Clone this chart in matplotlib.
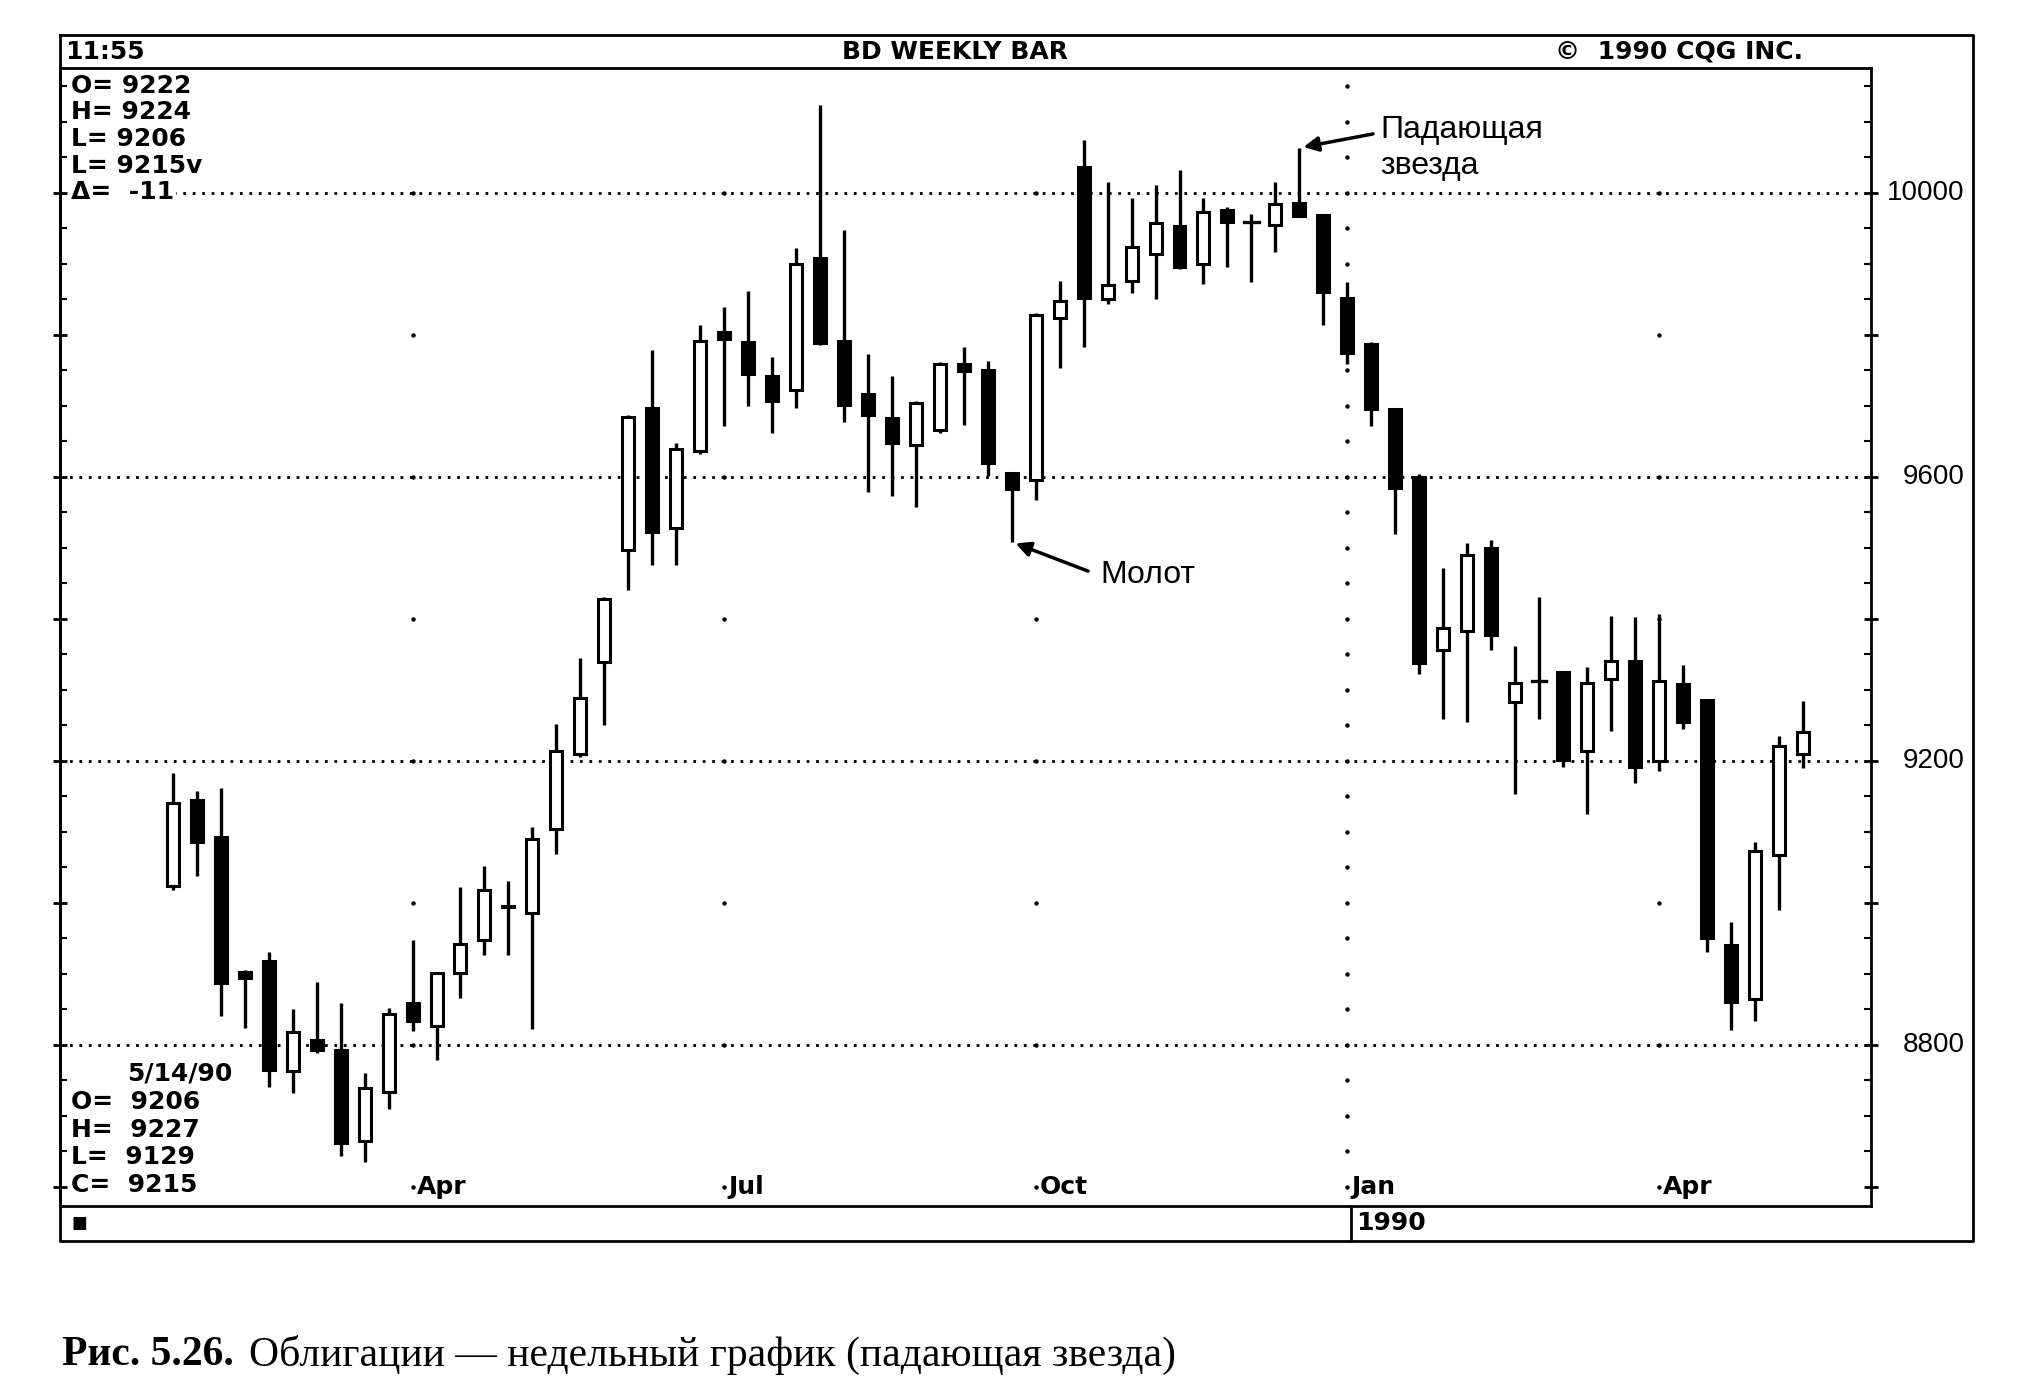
import datetime as dt
import numpy as np
import matplotlib
matplotlib.use("Agg")
import matplotlib.pyplot as plt
import matplotlib.transforms as mtransforms
from matplotlib.patches import Rectangle

# weekly bars, first bar = week of 23 Jan 1989, last = 14 May 1990
first_week = dt.date(1989, 1, 23)
opens = [9024, 9145, 9092, 8903, 8918, 8763, 8806, 8792, 8665, 8734,
         8859, 8827, 8901, 8947, 8994, 8986, 9104, 9209, 9339, 9497,
         9696, 9528, 9636, 9804, 9789, 9742, 9722, 9908, 9791, 9716,
         9682, 9644, 9665, 9759, 9750, 9605, 9595, 9824, 10036, 9850,
         9876, 9914, 9953, 9900, 9975, 9958, 9954, 9986, 9968, 9852,
         9787, 9695, 9600, 9356, 9383, 9499, 9283, 9312, 9325, 9213,
         9315, 9341, 9199, 9308, 9286, 8941, 8864, 9067, 9210]
highs = [9183, 9157, 9162, 8905, 8931, 8851, 8889, 8859, 8760, 8852,
         8947, 8903, 9022, 9052, 9030, 9106, 9252, 9345, 9430, 9687,
         9778, 9648, 9813, 9839, 9861, 9769, 9922, 10123, 9947, 9772,
         9742, 9706, 9762, 9782, 9763, 9605, 9830, 9875, 10074, 10015,
         9992, 10010, 10032, 9992, 9980, 9970, 10015, 10063, 9968, 9874,
         9790, 9697, 9603, 9472, 9506, 9511, 9361, 9431, 9325, 9332,
         9404, 9402, 9406, 9335, 9286, 8973, 9085, 9235, 9284]
lows = [9018, 9037, 8841, 8824, 8741, 8732, 8788, 8644, 8635, 8709,
        8820, 8778, 8866, 8926, 8926, 8822, 9069, 9205, 9250, 9440,
        9475, 9475, 9632, 9671, 9699, 9661, 9696, 9785, 9677, 9578,
        9573, 9557, 9662, 9673, 9601, 9508, 9567, 9753, 9782, 9843,
        9859, 9850, 9893, 9871, 9895, 9874, 9916, 9966, 9813, 9758,
        9671, 9519, 9322, 9259, 9254, 9356, 9153, 9259, 9191, 9125,
        9242, 9169, 9186, 9245, 8930, 8821, 8833, 8990, 9190]
closes = [9140, 9085, 8887, 8894, 8764, 8818, 8792, 8661, 8739, 8843,
          8834, 8901, 8942, 9018, 8996, 9090, 9214, 9288, 9427, 9684,
          9522, 9639, 9791, 9794, 9744, 9707, 9899, 9788, 9701, 9687,
          9647, 9704, 9759, 9749, 9619, 9583, 9827, 9848, 9852, 9870,
          9923, 9957, 9895, 9973, 9958, 9958, 9984, 9967, 9860, 9774,
          9695, 9584, 9337, 9387, 9490, 9377, 9309, 9312, 9201, 9309,
          9341, 9191, 9312, 9254, 8951, 8860, 9073, 9220, 9240]
weeks = [first_week + dt.timedelta(weeks=i) for i in range(len(opens))]

hammer_idx = 35
star_idx = 47

price_labels = [8800, 9200, 9600, 10000]
quarter_months = {1: "Jan", 4: "Apr", 7: "Jul", 10: "Oct"}

header_left = "11:55"
header_title = "BD WEEKLY BAR"
header_right = "©  1990 CQG INC."
quote_top = ["O= 9222", "H= 9224", "L= 9206", "L= 9215v", "Δ=  -11"]
quote_date = "5/14/90"
quote_bottom = ["O=  9206", "H=  9227", "L=  9129", "C=  9215"]
year_label = "1990"
caption_bold = "Рис. 5.26."
caption_rest = "Облигации — недельный график (падающая звезда)"

plt.rcParams["font.family"] = ["DejaVu Sans"]

W, H = 1568, 1065          # layout grid of the page
left, right, top, bottom = 46, 1440, 52, 928
fig = plt.figure(figsize=(20.37, 13.84), dpi=100)
ax = fig.add_axes([left / W, 1 - bottom / H, (right - left) / W, (bottom - top) / H])
ax.set_xlim(-4.72, 70.84)
ax.set_ylim(8573, 10176)
ax.patch.set_visible(False)
for s in ax.spines.values():
    s.set_linewidth(2)

ax.set_xticks([])
ax.set_yticks(np.arange(8600, 10001, 200))
ax.set_yticks(np.arange(8600, 10151, 50), minor=True)
ax.tick_params(axis="y", which="major", direction="inout", length=10, width=2,
               left=True, right=True, labelleft=False, labelright=False)
ax.tick_params(axis="y", which="minor", direction="in", length=5, width=1.5,
               left=True, right=True)

for v in price_labels:
    ax.axhline(v, color="k", lw=2, ls=(0, (1, 2.4)), zorder=1)

cqg = dict(fontsize=18, weight="bold")

# quarter markers: first bar of Jan/Apr/Jul/Oct
month_marks = [(i, d) for i, d in enumerate(weeks)
               if i > 0 and d.month in quarter_months and weeks[i - 1].month != d.month]
for i, d in month_marks:
    if d.month == 1:
        lv = np.arange(8600, 10151, 50)
    else:
        lv = np.arange(8600, 10001, 200)
    ax.plot(np.full(len(lv), i), lv, "o", color="k", ms=3.2, mew=0, zorder=1)
    ax.annotate(quarter_months[d.month], (i, 8600), xytext=(3, 0),
                textcoords="offset points", va="center", ha="left", **cqg)

bw = 0.5
for i, (o, h, l, c) in enumerate(zip(opens, highs, lows, closes)):
    ax.plot([i, i], [l, h], color="k", lw=2.4, solid_capstyle="butt", zorder=2)
    lo, hi = min(o, c), max(o, c)
    if c == o:
        ax.plot([i - 0.3, i + 0.3], [o, o], color="k", lw=2.4, zorder=3)
        continue
    face = "white" if c > o else "black"
    ax.add_patch(Rectangle((i - bw / 2, lo), bw, hi - lo, facecolor=face,
                           edgecolor="k", lw=2.2, zorder=3))

trans = mtransforms.blended_transform_factory(ax.transAxes, ax.transData)
for v in price_labels:
    ax.text(1 + (1512 - right) / (right - left), v, str(v), transform=trans,
            ha="right", va="center", fontsize=20, family="Liberation Sans", clip_on=False)

# annotations
ax.annotate("", xy=(star_idx, highs[star_idx]), xytext=(53, 10), textcoords="offset points",
            arrowprops=dict(arrowstyle="-|>", lw=2.5, color="k", mutation_scale=22,
                            shrinkA=0, shrinkB=3))
ax.annotate("Падающая", (star_idx, highs[star_idx]), xytext=(58, 13), textcoords="offset points",
            va="center", ha="left", fontsize=23, family="Liberation Sans")
ax.annotate("звезда", (star_idx, highs[star_idx]), xytext=(58, -13), textcoords="offset points",
            va="center", ha="left", fontsize=23, family="Liberation Sans")
ax.annotate("", xy=(hammer_idx, lows[hammer_idx]), xytext=(55, -21), textcoords="offset points",
            arrowprops=dict(arrowstyle="-|>", lw=2.5, color="k", mutation_scale=22,
                            shrinkA=0, shrinkB=3))
ax.annotate("Молот", (hammer_idx, lows[hammer_idx]), xytext=(64, -24), textcoords="offset points",
            va="center", ha="left", fontsize=23, family="Liberation Sans")

# page frame and CQG screen texts
ov = fig.add_axes([0, 0, 1, 1], zorder=5)
ov.set_xlim(0, W)
ov.set_ylim(H, 0)
ov.axis("off")
ov.patch.set_visible(False)
ov.plot([46, 1519, 1519, 46, 46], [27, 27, 955, 955, 27], color="k", lw=2)
ov.plot([1040, 1040], [928, 955], color="k", lw=2)

ov.text(50, 40, header_left, ha="left", va="center", **cqg)
ov.text(735, 40, header_title, ha="center", va="center", **cqg)
ov.text(1197, 40, header_right, ha="left", va="center", **cqg)
for k, s in enumerate(quote_top):
    ov.text(55, 66 + 20.5 * k, s, ha="left", va="center",
            bbox=dict(facecolor="white", edgecolor="none", pad=1), **cqg)
ov.text(98, 826, quote_date, ha="left", va="center", **cqg)
for k, s in enumerate(quote_bottom):
    ov.text(55, 848 + 21.3 * k, s, ha="left", va="center", **cqg)
ov.text(55, 941, "■", ha="left", fontsize=12, va="center")
ov.text(1044, 941, year_label, ha="left", va="center", **cqg)

t1 = ov.text(48, 1043, caption_bold, family="Liberation Serif", weight="bold",
             fontsize=30, va="center", ha="left")
fig.canvas.draw()
bb = t1.get_window_extent()
x_end = ov.transData.inverted().transform((bb.x1, bb.y0))[0]
ov.text(x_end + 11, 1043, caption_rest, family="Liberation Serif", fontsize=30,
        va="center", ha="left")

fig.savefig("out.png", dpi=100)
